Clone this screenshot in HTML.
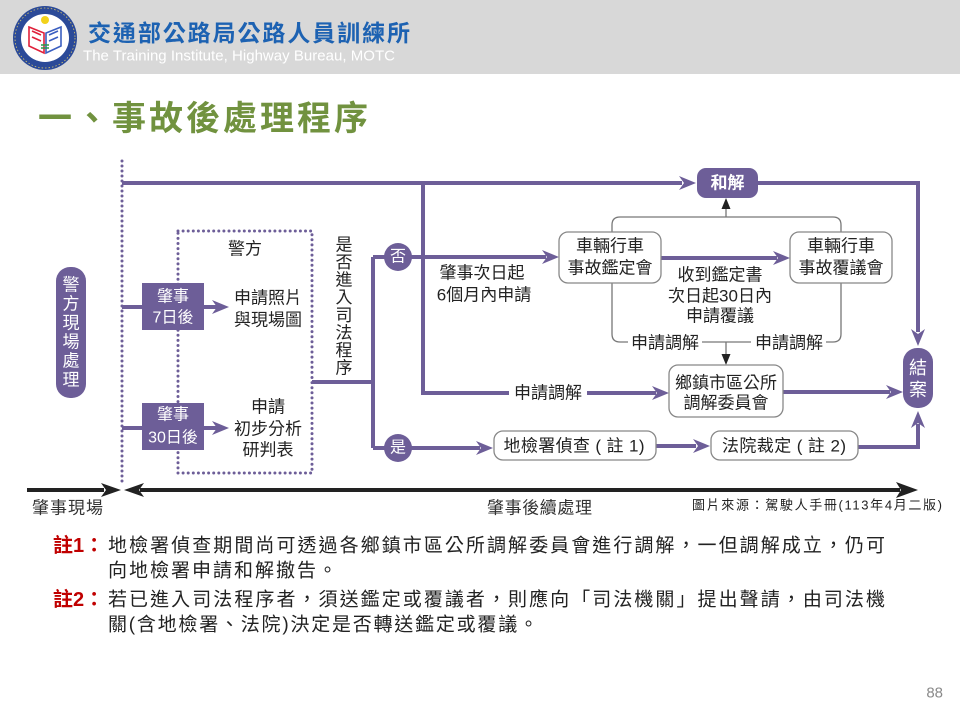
<!DOCTYPE html>
<html><head><meta charset="utf-8">
<style>
html,body{margin:0;padding:0;background:#fff;}
svg{display:block;}
text{font-family:"Liberation Sans","Noto Sans CJK TC",sans-serif;}
</style></head><body>
<svg width="960" height="720" viewBox="0 0 960 720" xmlns="http://www.w3.org/2000/svg">
<!-- header -->
<rect x="0" y="0" width="960" height="74" fill="#d8d8d8"/>
<circle cx="45" cy="38" r="32" fill="#2b4a98"/>
<circle cx="45" cy="38" r="30" fill="none" stroke="#d9c66a" stroke-width="0.8" stroke-dasharray="1.5 2"/>
<circle cx="45" cy="38" r="24" fill="#fff"/>
<circle cx="45" cy="20" r="4" fill="#f2d21b"/>
<path d="M29 27 L44 33 L44 53 L29 46 Z M32 31 L41 35 M32 37 L41 41" fill="none" stroke="#e0203a" stroke-width="1.6"/>
<path d="M61 27 L46 33 L46 53 L61 46 Z M58 31 L49 35 M58 37 L49 41" fill="none" stroke="#3a5ec0" stroke-width="1.6"/>
<path d="M41 45 H49 M41 48 H49" stroke="#2a9a4a" stroke-width="1.5"/>
<text x="88" y="33" font-size="23" font-weight="bold" fill="#1d62b2" dominant-baseline="central" textLength="322">交通部公路局公路人員訓練所</text>
<text x="83" y="56" font-size="15" fill="#ffffff" dominant-baseline="central" textLength="312">The Training Institute, Highway Bureau, MOTC</text>

<!-- main title -->
<text x="38" y="119" font-size="34" font-weight="bold" fill="#71923f" dominant-baseline="central" textLength="330">一、事故後處理程序</text>

<g fill="none" stroke="#6d5e98" stroke-width="3" stroke-linecap="round">
  <line x1="122" y1="161" x2="122" y2="486" stroke-dasharray="0 5"/>
  <rect x="178" y="231" width="134" height="242" stroke-dasharray="0 5.1"/>
</g>

<!-- thick purple lines -->
<g fill="none" stroke="#6d5e98" stroke-width="4">
  <path d="M122 183 H682"/>
  <path d="M758 183 H918 V332"/>
  <path d="M122 307 H142"/>
  <path d="M122 428 H142"/>
  <path d="M204 307 H217"/>
  <path d="M204 428 H217"/>
  <path d="M312 382 H373"/>
  <path d="M373 257 V448"/>
  <path d="M373 257 H546"/>
  <path d="M373 448 H480"/>
  <path d="M423 183 V393 H656"/>
  <path d="M661 258 H777"/>
  <path d="M783 392 H890"/>
  <path d="M656 446 H696"/>
  <path d="M858 447 H918 V424"/>
</g>
<!-- arrowheads -->
<g fill="#6d5e98">
  <polygon points="696,183 679,176 684,183 679,190"/>
  <polygon points="918,346 911,329 918,334 925,329"/>
  <polygon points="229,307 212,300 217,307 212,314"/>
  <polygon points="229,428 212,421 217,428 212,435"/>
  <polygon points="559,257 542,250 547,257 542,264"/>
  <polygon points="493,448 476,441 481,448 476,455"/>
  <polygon points="669,393 652,386 657,393 652,400"/>
  <polygon points="790,258 773,251 778,258 773,265"/>
  <polygon points="903,392 886,385 891,392 886,399"/>
  <polygon points="710,446 693,439 698,446 693,453"/>
  <polygon points="918,411 911,428 918,423 925,428"/>
</g>

<!-- label on y=393 line -->
<rect x="509" y="383" width="78" height="20" fill="#fff"/>
<text x="548" y="393" font-size="17" fill="#222" text-anchor="middle" dominant-baseline="central">申請調解</text>

<!-- gray bracket -->
<g fill="none" stroke="#777" stroke-width="1.3">
  <path d="M628 342 H620 Q612 342 612 334 V225 Q612 217 620 217 H833 Q841 217 841 225 V334 Q841 342 833 342 H826"/>
  <path d="M702 342 H751"/>
  <path d="M726 217 V207"/>
  <path d="M726 342 V356"/>
</g>
<g fill="#222">
  <polygon points="726,198 721.5,209 730.5,209"/>
  <polygon points="726,365 721.5,354 730.5,354"/>
</g>
<text x="665" y="343" font-size="17" fill="#222" text-anchor="middle" dominant-baseline="central">申請調解</text>
<text x="789" y="343" font-size="17" fill="#222" text-anchor="middle" dominant-baseline="central">申請調解</text>

<!-- 和解 -->
<rect x="697" y="168" width="61" height="30" rx="9" fill="#6d5e98"/>
<text x="727.5" y="183" font-size="17" font-weight="bold" fill="#fff" text-anchor="middle" dominant-baseline="central">和解</text>

<!-- 警方現場處理 pill -->
<rect x="56" y="267" width="30" height="131" rx="14" fill="#6d5e98"/>
<g font-size="17" fill="#fff" text-anchor="middle" dominant-baseline="central">
  <text x="71" y="285">警</text>
  <text x="71" y="304">方</text>
  <text x="71" y="323">現</text>
  <text x="71" y="342">場</text>
  <text x="71" y="361">處</text>
  <text x="71" y="380">理</text>
</g>

<!-- 肇事 boxes -->
<rect x="142" y="283" width="62" height="47" fill="#6d5e98"/>
<rect x="142" y="403" width="62" height="47" fill="#6d5e98"/>
<g font-size="16" fill="#fff" text-anchor="middle" dominant-baseline="central">
  <text x="173" y="297">肇事</text>
  <text x="173" y="318">7日後</text>
  <text x="173" y="415">肇事</text>
  <text x="173" y="438">30日後</text>
</g>

<!-- dotted box texts -->
<g font-size="17" fill="#222" text-anchor="middle" dominant-baseline="central">
  <text x="245" y="249">警方</text>
  <text x="268" y="298">申請照片</text>
  <text x="268" y="320">與現場圖</text>
  <text x="268" y="407">申請</text>
  <text x="268" y="429">初步分析</text>
  <text x="268" y="450">研判表</text>
</g>

<!-- 是否進入司法程序 -->
<g font-size="17" fill="#222" text-anchor="middle" dominant-baseline="central">
  <text x="344" y="245">是</text>
  <text x="344" y="262.6">否</text>
  <text x="344" y="280.1">進</text>
  <text x="344" y="297.7">入</text>
  <text x="344" y="315.3">司</text>
  <text x="344" y="332.9">法</text>
  <text x="344" y="350.4">程</text>
  <text x="344" y="368">序</text>
</g>

<!-- 否 / 是 circles -->
<circle cx="398" cy="257" r="14" fill="#6d5e98"/>
<circle cx="398" cy="448" r="14" fill="#6d5e98"/>
<text x="398" y="257" font-size="16" fill="#fff" text-anchor="middle" dominant-baseline="central">否</text>
<text x="398" y="448" font-size="16" fill="#fff" text-anchor="middle" dominant-baseline="central">是</text>

<!-- mid texts -->
<g font-size="17" fill="#222" text-anchor="middle" dominant-baseline="central">
  <text x="482" y="273">肇事次日起</text>
  <text x="484" y="295">6個月內申請</text>
  <text x="720" y="275">收到鑑定書</text>
  <text x="720" y="296">次日起30日內</text>
  <text x="720" y="316">申請覆議</text>
</g>

<!-- white boxes -->
<g fill="#fff" stroke="#888" stroke-width="1.3">
  <rect x="559" y="232" width="102" height="51" rx="9"/>
  <rect x="790" y="232" width="102" height="51" rx="9"/>
  <rect x="669" y="365" width="114" height="52" rx="9"/>
  <rect x="494" y="431" width="162" height="29" rx="9"/>
  <rect x="711" y="431" width="147" height="29" rx="9"/>
</g>
<g font-size="17" fill="#222" text-anchor="middle" dominant-baseline="central">
  <text x="610" y="246">車輛行車</text>
  <text x="610" y="268">事故鑑定會</text>
  <text x="841" y="246">車輛行車</text>
  <text x="841" y="268">事故覆議會</text>
  <text x="726" y="383">鄉鎮市區公所</text>
  <text x="726" y="403">調解委員會</text>
  <text x="574" y="446" textLength="141">地檢署偵查 ( 註 1)</text>
  <text x="784" y="446" textLength="124">法院裁定 ( 註 2)</text>
</g>

<!-- 結案 -->
<rect x="903" y="348" width="30" height="60" rx="14" fill="#6d5e98"/>
<text x="918" y="368" font-size="18" fill="#fff" text-anchor="middle" dominant-baseline="central">結</text>
<text x="918" y="390" font-size="18" fill="#fff" text-anchor="middle" dominant-baseline="central">案</text>

<!-- timeline -->
<path d="M27 490 H104 M140 490 H900" stroke="#222" stroke-width="4" fill="none"/>
<g fill="#222">
  <polygon points="121,490 101,483 106,490 101,497"/>
  <polygon points="124,490 144,483 139,490 144,497"/>
  <polygon points="918,490 896,482 901,490 896,498"/>
</g>
<text x="32" y="508" font-size="17" fill="#333" dominant-baseline="central" textLength="71">肇事現場</text>
<text x="487" y="508" font-size="17" fill="#333" dominant-baseline="central" textLength="105">肇事後續處理</text>
<text x="692" y="505" font-size="13" fill="#222" dominant-baseline="central" textLength="250">圖片來源：駕駛人手冊(113年4月二版)</text>

<!-- notes -->
<text x="53" y="546" font-size="20" font-weight="bold" fill="#c00000" dominant-baseline="central">註1：</text>
<text x="108" y="546" font-size="19" fill="#222" dominant-baseline="central" textLength="777">地檢署偵查期間尚可透過各鄉鎮市區公所調解委員會進行調解，一但調解成立，仍可</text>
<text x="108" y="571" font-size="19" fill="#222" dominant-baseline="central" letter-spacing="2">向地檢署申請和解撤告。</text>
<text x="53" y="600" font-size="20" font-weight="bold" fill="#c00000" dominant-baseline="central">註2：</text>
<text x="108" y="600" font-size="19" fill="#222" dominant-baseline="central" textLength="777">若已進入司法程序者，須送鑑定或覆議者，則應向「司法機關」提出聲請，由司法機</text>
<text x="108" y="625" font-size="19" fill="#222" dominant-baseline="central" textLength="430">關(含地檢署、法院)決定是否轉送鑑定或覆議。</text>

<!-- page number -->
<text x="943" y="693" font-size="15" fill="#8a8a8a" text-anchor="end" dominant-baseline="central">88</text>
</svg>
</body></html>
